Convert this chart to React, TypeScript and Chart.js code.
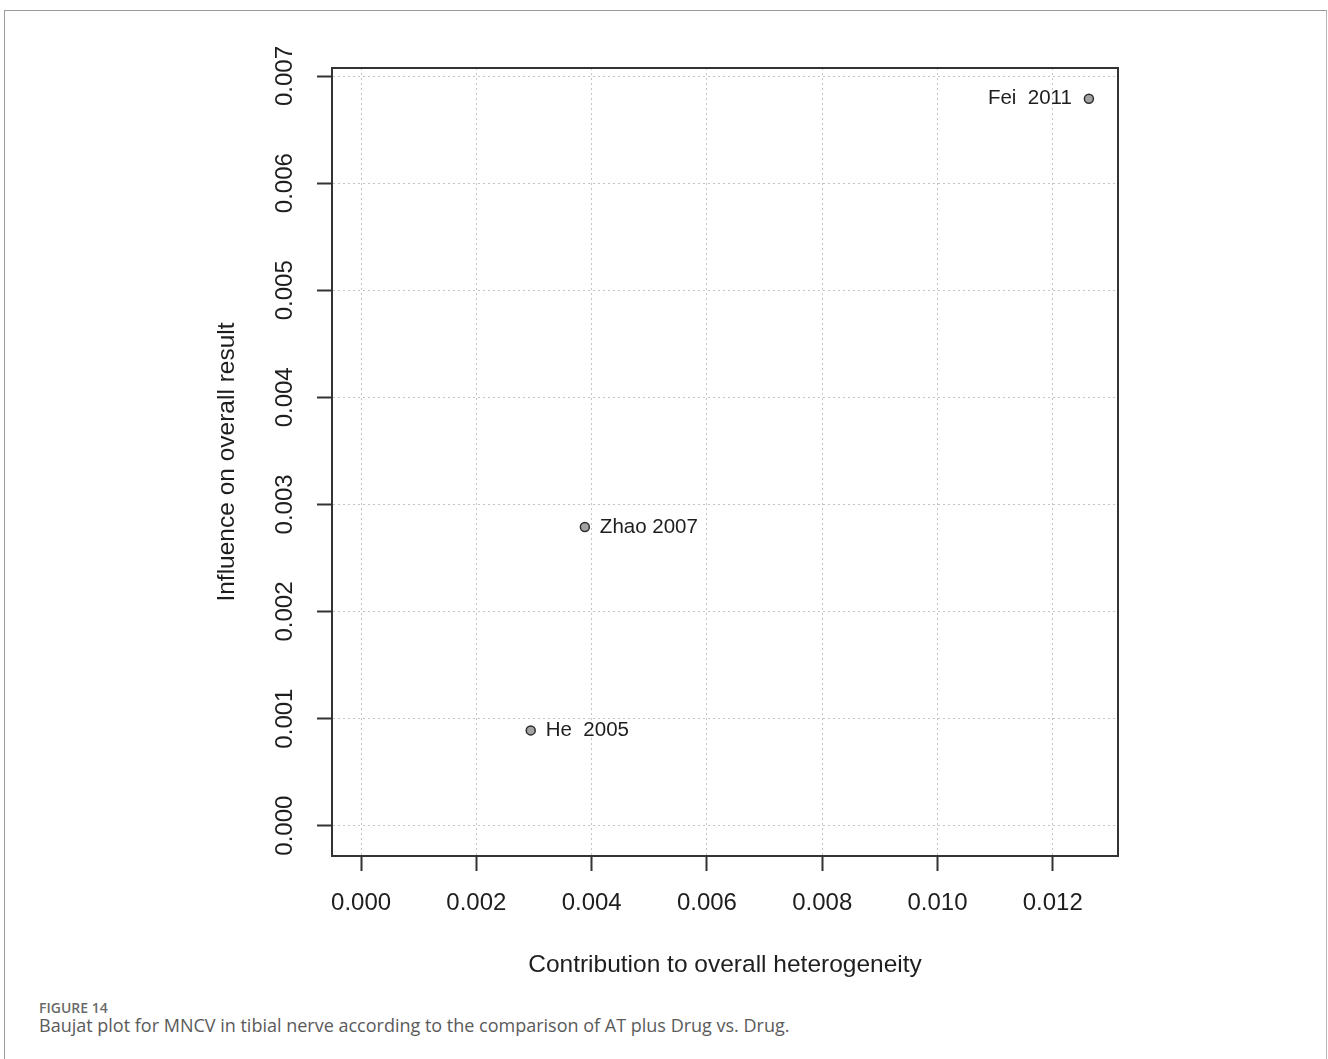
import React, { useEffect, useRef } from "react";
import { Chart, registerables } from "chart.js";

Chart.register(...registerables);

// ---- data ----
const studyLabels = ["He  2005", "Zhao 2007", "Fei  2011"];
const contribution = [0.002943, 0.003882, 0.012627];
const influence = [0.00089, 0.002789, 0.006788];
const labelSide = ["right", "right", "left"];

const xTicks = [0, 0.002, 0.004, 0.006, 0.008, 0.01, 0.012];
const xTickLabels = ["0.000", "0.002", "0.004", "0.006", "0.008", "0.010", "0.012"];
const yTicks = [0, 0.001, 0.002, 0.003, 0.004, 0.005, 0.006, 0.007];
const yTickLabels = ["0.000", "0.001", "0.002", "0.003", "0.004", "0.005", "0.006", "0.007"];
const xRange = [-0.000505, 0.013132];
const yRange = [-0.000283, 0.007075];

const xTitle = "Contribution to overall heterogeneity";
const yTitle = "Influence on overall result";
const figureLabel = "FIGURE 14";
const captionText =
  "Baujat plot for MNCV in tibial nerve according to the comparison of AT plus Drug vs. Drug.";

const FONT = "'Liberation Sans', Arial, sans-serif";
const INK = "#1e1e1e";

const W = 1328;
const H = 990;

const decorPlugin = {
  id: "decor",
  beforeDatasetsDraw(chart: any) {
    const { ctx, chartArea } = chart;
    ctx.save();
    ctx.strokeStyle = "#333333";
    ctx.lineWidth = 2;
    ctx.strokeRect(chartArea.left, chartArea.top, chartArea.right - chartArea.left, chartArea.bottom - chartArea.top);
    ctx.restore();

    // rotated y tick labels
    const ys = chart.scales.y;
    ctx.save();
    ctx.fillStyle = INK;
    ctx.font = `24px ${FONT}`;
    ctx.textAlign = "center";
    ctx.textBaseline = "middle";
    ys.ticks.forEach((t: any, i: number) => {
      const py = ys.getPixelForValue(t.value);
      ctx.save();
      ctx.translate(chartArea.left - 47, py);
      ctx.rotate(-Math.PI / 2);
      ctx.fillText(yTickLabels[i], 0, 0);
      ctx.restore();
    });
    ctx.restore();
  },
  afterDatasetsDraw(chart: any) {
    const { ctx } = chart;
    const meta = chart.getDatasetMeta(0);
    ctx.save();
    ctx.fillStyle = INK;
    ctx.font = `20.5px ${FONT}`;
    ctx.textBaseline = "middle";
    meta.data.forEach((el: any, i: number) => {
      const side = labelSide[i];
      if (side === "left") {
        ctx.textAlign = "right";
        ctx.fillText(studyLabels[i], el.x - 17, el.y);
      } else {
        ctx.textAlign = "left";
        ctx.fillText(studyLabels[i], el.x + 15, el.y);
      }
    });
    ctx.restore();
  },
};

function BaujatChart() {
  const ref = useRef<HTMLCanvasElement | null>(null);
  useEffect(() => {
    if (!ref.current) return;
    const chart = new Chart(ref.current, {
      type: "scatter",
      data: {
        datasets: [
          {
            label: "studies",
            data: contribution.map((x, i) => ({ x, y: influence[i] })),
            pointRadius: 4.5,
            pointHoverRadius: 4.5,
            backgroundColor: "#a3a3a3",
            borderColor: "#2e2e2e",
            borderWidth: 1.5,
          },
        ],
      },
      options: {
        responsive: false,
        animation: false,
        devicePixelRatio: 1,
        events: [],
        layout: { padding: { top: 68, right: 210, left: 0, bottom: 0 } },
        plugins: { legend: { display: false }, tooltip: { enabled: false } },
        scales: {
          x: {
            type: "linear",
            position: "bottom",
            min: xRange[0],
            max: xRange[1],
            afterBuildTicks: (s: any) => {
              s.ticks = xTicks.map((v) => ({ value: v }));
            },
            afterFit: (s: any) => {
              s.height = H - 856;
            },
            ticks: {
              callback: (_v: any, i: number) => xTickLabels[i],
              font: { family: FONT, size: 24 },
              color: INK,
              padding: 18,
              maxRotation: 0,
              minRotation: 0,
            },
            grid: {
              color: "#c4c4c4",
              lineWidth: 1,
              drawTicks: true,
              tickLength: 15,
              tickColor: "#333333",
              tickWidth: 2,
            },
            border: { display: true, color: "#333333", width: 2, dash: [2, 3] },
            title: {
              display: true,
              text: xTitle,
              font: { family: FONT, size: 24.5 },
              color: INK,
              padding: { top: 0, bottom: 9.6 },
            },
          },
          y: {
            type: "linear",
            position: "left",
            min: yRange[0],
            max: yRange[1],
            afterBuildTicks: (s: any) => {
              s.ticks = yTicks.map((v) => ({ value: v }));
            },
            afterFit: (s: any) => {
              s.width = 332;
            },
            ticks: { display: false },
            grid: {
              color: "#c4c4c4",
              lineWidth: 1,
              drawTicks: true,
              tickLength: 15,
              tickColor: "#333333",
              tickWidth: 2,
            },
            border: { display: true, color: "#333333", width: 2, dash: [2, 3] },
            title: {
              display: true,
              text: yTitle,
              font: { family: FONT, size: 24.5 },
              color: INK,
              padding: { top: 213, bottom: 0 },
            },
          },
        },
      },
      plugins: [decorPlugin],
    });
    return () => chart.destroy();
  }, []);
  return <canvas ref={ref} width={W} height={H} style={{ position: "absolute", left: 0, top: 0, width: W, height: H }} />;
}

export default function App() {
  return (
    <div
      style={{
        position: "absolute",
        left: 0,
        top: 0,
        width: 1328,
        height: 1059,
        overflow: "hidden",
        background: "#ffffff",
      }}
    >
      <div
        style={{
          position: "absolute",
          left: 4,
          top: 10,
          width: 1321,
          height: 1200,
          borderTop: "1px solid #9a9a9a",
          borderLeft: "1px solid #9a9a9a",
          borderRight: "1px solid #b5b5b5",
          boxSizing: "content-box",
        }}
      />
      <BaujatChart />
      <div
        style={{
          position: "absolute",
          left: 39,
          top: 998,
          fontFamily: "'Open Sans', sans-serif",
          fontWeight: 600,
          fontSize: 14,
          color: "#6a6a6a",
          whiteSpace: "nowrap",
          lineHeight: "normal",
        }}
      >
        {figureLabel}
      </div>
      <div
        style={{
          position: "absolute",
          left: 39,
          top: 1013,
          fontFamily: "'Open Sans', sans-serif",
          fontWeight: 400,
          fontSize: 18,
          color: "#5a5a5a",
          whiteSpace: "nowrap",
          lineHeight: "normal",
        }}
      >
        {captionText}
      </div>
    </div>
  );
}
